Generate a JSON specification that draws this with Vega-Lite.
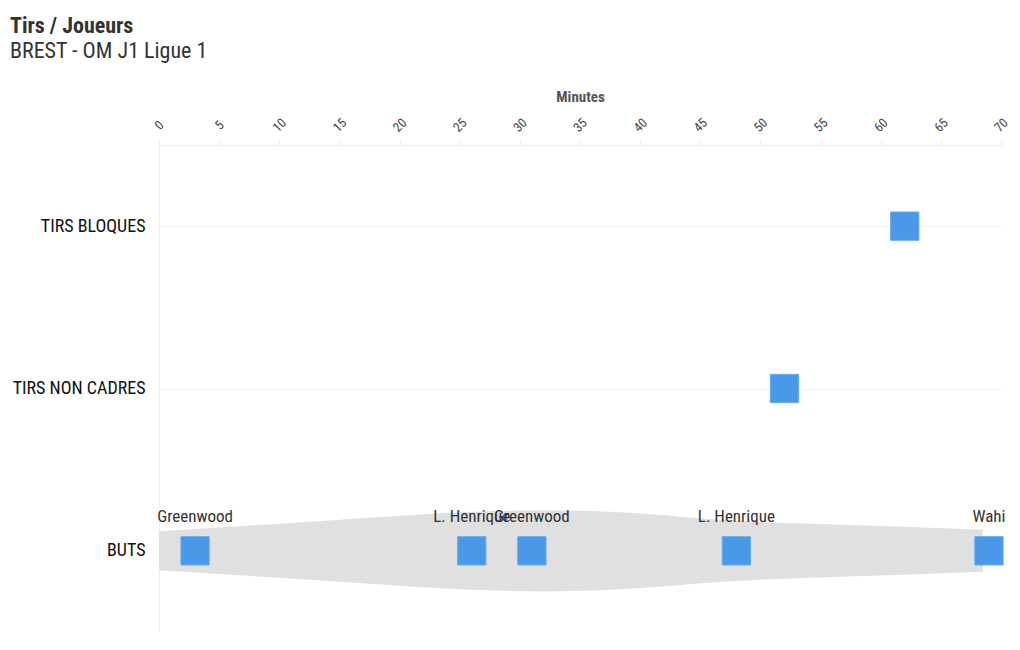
{
  "$schema": "https://vega.github.io/schema/vega-lite/v6.json",
  "autosize": {"type": "none"},
  "padding": {"left": 159, "top": 145, "right": 19, "bottom": 18},
  "width": 842,
  "height": 487,
  "background": "white",
  "config": {
    "font": "Roboto Condensed, Roboto, sans-serif",
    "view": {"stroke": null}
  },
  "title": {
    "text": "Tirs / Joueurs",
    "subtitle": "BREST - OM J1 Ligue 1",
    "anchor": "start",
    "frame": "group",
    "dx": -149,
    "fontSize": 22,
    "fontWeight": "bold",
    "color": "#333333",
    "subtitleFontSize": 22,
    "subtitleColor": "#333333",
    "subtitleFontWeight": "normal",
    "subtitlePadding": 3,
    "offset": 26
  },
  "datasets": {
    "shots": [
      {"type": "TIRS BLOQUES", "minute": 62, "player": ""},
      {"type": "TIRS NON CADRES", "minute": 52, "player": ""},
      {"type": "BUTS", "minute": 3, "player": "Greenwood"},
      {"type": "BUTS", "minute": 26, "player": "L. Henrique"},
      {"type": "BUTS", "minute": 31, "player": "Greenwood"},
      {"type": "BUTS", "minute": 48, "player": "L. Henrique"},
      {"type": "BUTS", "minute": 69, "player": "Wahi"}
    ],
    "violin": [
      {"minute": 0, "hi": 0.00975, "lo": -0.00975},
      {"minute": 10, "hi": 0.0135, "lo": -0.0135},
      {"minute": 20, "hi": 0.0175, "lo": -0.0175},
      {"minute": 24, "hi": 0.019, "lo": -0.019},
      {"minute": 28, "hi": 0.0199, "lo": -0.0199},
      {"minute": 32, "hi": 0.0203, "lo": -0.0203},
      {"minute": 36, "hi": 0.0199, "lo": -0.0199},
      {"minute": 40, "hi": 0.0186, "lo": -0.0186},
      {"minute": 44, "hi": 0.0167, "lo": -0.0167},
      {"minute": 48, "hi": 0.0151, "lo": -0.0151},
      {"minute": 53, "hi": 0.01375, "lo": -0.01375},
      {"minute": 58, "hi": 0.01275, "lo": -0.01275},
      {"minute": 63, "hi": 0.01175, "lo": -0.01175},
      {"minute": 68.5, "hi": 0.0105, "lo": -0.0105}
    ]
  },
  "layer": [
    {
      "data": {"name": "violin"},
      "mark": {"type": "area", "color": "#e0e0e0", "interpolate": "monotone", "opacity": 1},
      "encoding": {
        "x": {
          "field": "minute", "type": "quantitative",
          "scale": {"domain": [0, 70], "nice": false},
          "axis": {
            "orient": "top",
            "title": "Minutes",
            "titleFontSize": 15,
            "titleFontWeight": "bold",
            "titleColor": "#555555",
            "titlePadding": 12,
            "values": [0, 5, 10, 15, 20, 25, 30, 35, 40, 45, 50, 55, 60, 65, 70],
            "labelAngle": -45,
            "labelAlign": "center",
            "labelBaseline": "middle",
            "labelPadding": 14,
            "labelFontSize": 13,
            "labelColor": "#444444",
            "labelFlush": false,
            "tickSize": 6,
            "tickColor": "#eeeeee",
            "domainColor": "#eeeeee",
            "grid": false
          }
        },
        "y": {"field": "hi", "type": "quantitative", "scale": {"domain": [-0.0406, 0.2029], "nice": false, "zero": false}, "axis": null},
        "y2": {"field": "lo"}
      }
    },
    {
      "data": {"name": "shots"},
      "layer": [
        {
          "mark": {"type": "point", "shape": "square", "size": 800, "filled": true, "color": "#4a99e8", "stroke": "#63a9ef", "strokeWidth": 1, "opacity": 1},
          "encoding": {
            "x": {"field": "minute", "type": "quantitative"},
            "y": {
              "field": "type", "type": "nominal",
              "scale": {"domain": ["TIRS BLOQUES", "TIRS NON CADRES", "BUTS"], "type": "point", "padding": 0.5},
              "axis": {
                "title": null,
                "labelFontSize": 18,
                "labelColor": "#111111",
                "labelPadding": 14,
                "ticks": false,
                "domainColor": "#eeeeee",
                "grid": true,
                "gridColor": "#eeeeee"
              }
            }
          }
        },
        {
          "transform": [{"filter": "datum.type === 'BUTS'"}],
          "mark": {"type": "text", "dy": -34, "fontSize": 17, "color": "#333333", "baseline": "middle", "align": "center"},
          "encoding": {
            "x": {"field": "minute", "type": "quantitative"},
            "y": {"field": "type", "type": "nominal"},
            "text": {"field": "player"}
          }
        }
      ]
    }
  ],
  "resolve": {"scale": {"y": "independent"}}
}
